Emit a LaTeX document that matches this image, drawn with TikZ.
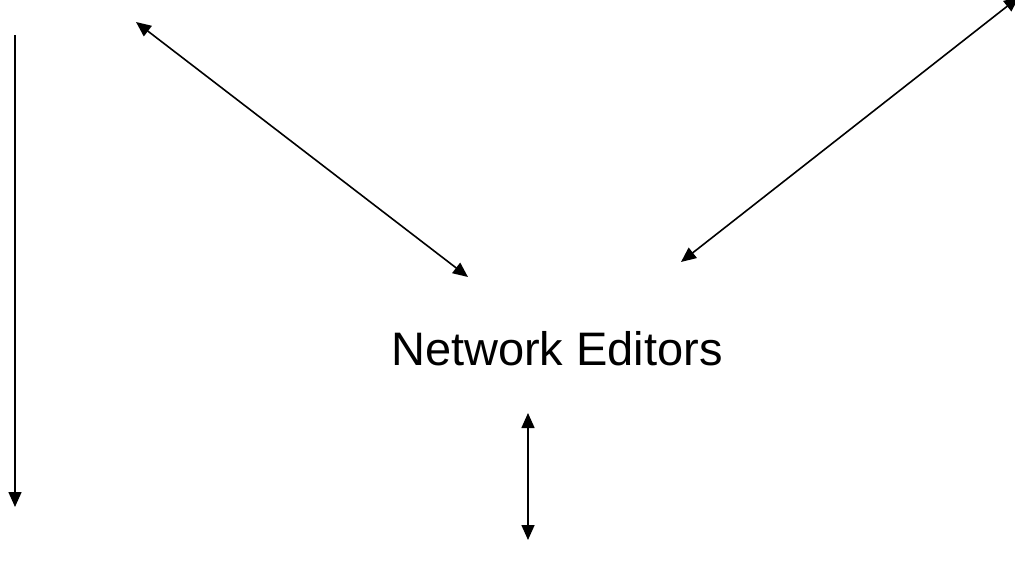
\documentclass[tikz,border=0pt]{standalone}
\usepackage{fontspec}
\setmainfont{Liberation Sans}
\usetikzlibrary{arrows.meta}
\begin{document}
\begin{tikzpicture}[x=1pt,y=-1pt,
  conn/.style={line width=1.6pt, {Triangle[length=15pt,width=13pt]}-{Triangle[length=15pt,width=13pt]}},
  oneway/.style={line width=1.6pt, -{Triangle[length=15pt,width=13pt]}},
  lbl/.style={font=\fontsize{47}{56}\selectfont, inner sep=0pt, anchor=base}]
\useasboundingbox (0,0) rectangle (1015,562);
\node[lbl] (ne) at (557,365) {Network Editors};
\coordinate (l1) at (15,35);
\coordinate (l2) at (15,507);
\coordinate (a1) at (136,22);
\coordinate (a2) at (468,277);
\coordinate (b1) at (681,262);
\coordinate (b2) at (1019,-3);
\coordinate (c1) at (528,413);
\coordinate (c2) at (528,540);
\draw[oneway] (l1) -- (l2);
\draw[conn] (a1) -- (a2);
\draw[conn] (b1) -- (b2);
\draw[conn] (c1) -- (c2);
\end{tikzpicture}
\end{document}
